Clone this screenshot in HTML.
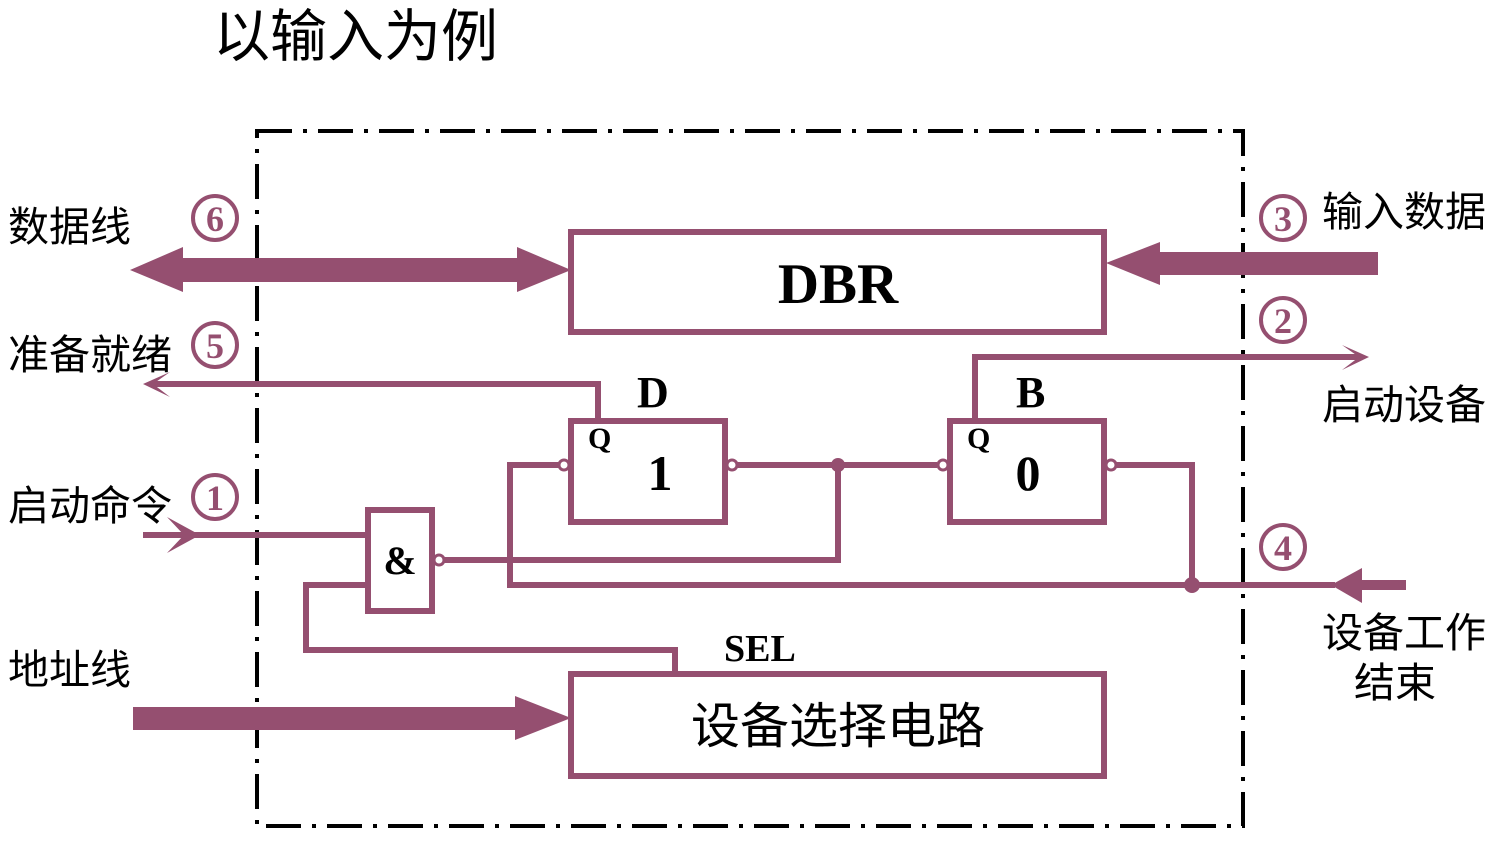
<!DOCTYPE html>
<html><head><meta charset="utf-8"><style>
html,body{margin:0;padding:0;background:#fff;}
svg{display:block;}
.cn{font-family:"Liberation Sans","Noto Sans CJK SC",sans-serif;fill:#000;}
.se{font-family:"Liberation Serif","Noto Serif CJK SC",serif;font-weight:bold;fill:#000;}
.num{font-family:"Liberation Serif",serif;fill:#954f70;font-size:36px;font-weight:bold;text-anchor:middle;}
</style></head><body>
<svg width="1496" height="857" viewBox="0 0 1496 857" xmlns="http://www.w3.org/2000/svg">
<text x="213" y="56" class="cn" font-size="57">以输入为例</text>
<rect x="257" y="131" width="986" height="695" fill="none" stroke="#000" stroke-width="4" stroke-dasharray="35 11 4 11"/>
<g fill="none" stroke="#954f70" stroke-width="6">
<rect x="571" y="232" width="533" height="100"/>
<rect x="571" y="421" width="154" height="101"/>
<rect x="950" y="421" width="154" height="101"/>
<rect x="368" y="510" width="64" height="101"/>
<rect x="571" y="674" width="533" height="102"/>
<polyline points="150,384 598,384 598,421"/>
<polyline points="975,421 975,357 1362,357"/>
<polyline points="560,465 510,465 510,585 1335,585"/>
<line x1="737" y1="465" x2="937" y2="465"/>
<polyline points="838,465 838,560 444,560"/>
<polyline points="1116,465 1192,465 1192,585"/>
<line x1="143" y1="535" x2="368" y2="535"/>
<polyline points="368,585 306,585 306,650 675,650 675,674"/>
</g>
<g fill="#fff" stroke="#954f70" stroke-width="3">
<circle cx="564" cy="465" r="5"/><circle cx="732" cy="465" r="5"/>
<circle cx="943" cy="465" r="5"/><circle cx="1111" cy="465" r="5"/>
<circle cx="439" cy="560" r="5"/>
</g>
<g fill="#954f70">
<circle cx="838" cy="465" r="7"/><circle cx="1192" cy="585" r="8"/>
<polygon points="130,270 183,247 183,258 517,258 517,247 571,270 517,292 517,282 183,282 183,292"/>
<polygon points="1106,263 1160,242 1160,252 1378,252 1378,275 1160,275 1160,285"/>
<polygon points="1331,585 1362,568 1362,580 1406,580 1406,590 1362,590 1362,603"/>
<polygon points="133,707 515,707 515,696 571,718 515,740 515,730 133,730"/>
<polygon points="143,384 170,372 153,384 170,397"/>
<polygon points="1369,357 1342,345 1359,357 1342,370"/>
<polygon points="200,535 167,517 184,535 167,553"/>
</g>
<g fill="none" stroke="#954f70" stroke-width="4">
<circle cx="215" cy="218" r="22"/><circle cx="215" cy="345" r="22"/><circle cx="215" cy="497" r="22"/>
<circle cx="1283" cy="218" r="22"/><circle cx="1283" cy="320" r="22"/><circle cx="1283" cy="547" r="22"/>
</g>
<text x="215" y="231" class="num">6</text><text x="215" y="358" class="num">5</text><text x="215" y="510" class="num">1</text>
<text x="1283" y="231" class="num">3</text><text x="1283" y="333" class="num">2</text><text x="1283" y="560" class="num">4</text>
<text x="8" y="241" class="cn" font-size="41">数据线</text>
<text x="8" y="369" class="cn" font-size="41">准备就绪</text>
<text x="8" y="520" class="cn" font-size="41">启动命令</text>
<text x="8" y="684" class="cn" font-size="41">地址线</text>
<text x="1322" y="226" class="cn" font-size="41">输入数据</text>
<text x="1322" y="419" class="cn" font-size="41">启动设备</text>
<text x="1322" y="647" class="cn" font-size="41">设备工作</text>
<text x="1354" y="697" class="cn" font-size="41">结束</text>
<text x="838" y="303" class="se" font-size="57" text-anchor="middle">DBR</text>
<text x="838" y="743" class="cn" font-size="49" text-anchor="middle">设备选择电路</text>
<text x="637" y="407" class="se" font-size="44">D</text>
<text x="1016" y="407" class="se" font-size="44">B</text>
<text x="588" y="448" class="se" font-size="30">Q</text>
<text x="967" y="448" class="se" font-size="30">Q</text>
<text x="660" y="490" class="se" font-size="50" text-anchor="middle">1</text>
<text x="1028" y="490" class="se" font-size="50" text-anchor="middle">0</text>
<text x="400" y="574" class="se" font-size="40" text-anchor="middle">&amp;</text>
<text x="724" y="661" class="se" font-size="38">SEL</text>
</svg>
</body></html>
